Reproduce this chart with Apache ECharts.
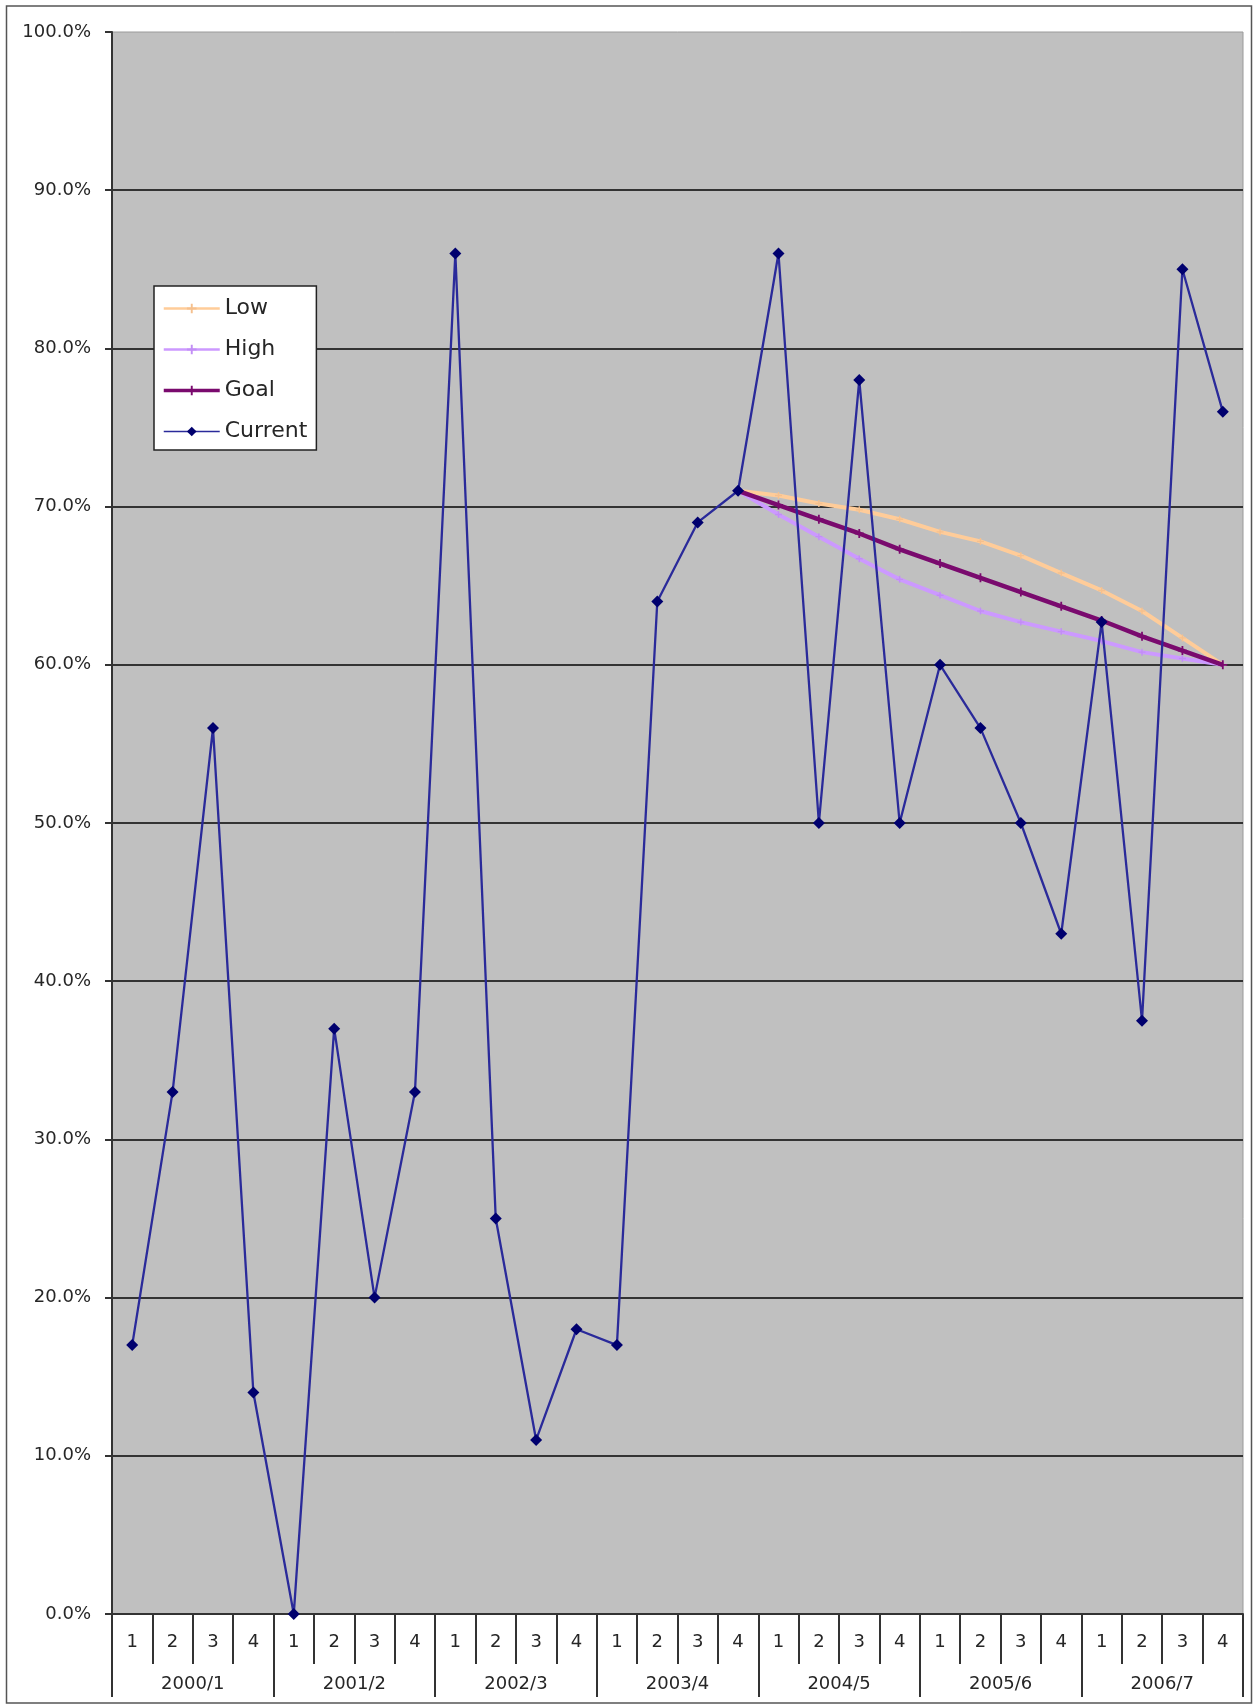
<!DOCTYPE html>
<html>
<head>
<meta charset="utf-8">
<title>Current vs Goal</title>
<script src="https://cdn.jsdelivr.net/npm/echarts@6/dist/echarts.min.js"></script>
<style>
  html, body { margin: 0; padding: 0; background: #ffffff; }
  #chart { width: 1253px; height: 1706px; }
</style>
</head>
<body>
<div id="chart"></div>
<script>
// Quarter labels (inner axis row) and school-year labels (outer axis row)
const quarters = ['1','2','3','4','1','2','3','4','1','2','3','4','1','2','3','4',
                  '1','2','3','4','1','2','3','4','1','2','3','4'];
const years = ['2000/1','2001/2','2002/3','2003/4','2004/5','2005/6','2006/7'];

// Measured rate per quarter, in percent
const current = [17, 33, 56, 14, 0, 37, 20, 33, 86, 25, 11, 18, 17, 64, 69, 71,
                 86, 50, 78, 50, 60, 56, 50, 43, 62.7, 37.5, 85, 76];

// Projections start at the last quarter of 2003/4
const projectionStart = 15;
const lowTrack  = [71, 70.7, 70.2, 69.8, 69.2, 68.4, 67.8, 66.9, 65.8, 64.7, 63.4, 61.7, 60];
const highTrack = [71, 69.5, 68.1, 66.7, 65.4, 64.4, 63.4, 62.7, 62.1, 61.5, 60.8, 60.4, 60];
const goalTrack = [71, 70.1, 69.2, 68.3, 67.3, 66.4, 65.5, 64.6, 63.7, 62.8, 61.8, 60.9, 60];

const yTicks = { min: 0, max: 100, step: 10 };

function pad(track) {
  return new Array(projectionStart).fill(null).concat(track);
}

const plus = 'path://M4,0 L6,0 L6,4 L10,4 L10,6 L6,6 L6,10 L4,10 L4,6 L0,6 L0,4 L4,4 Z';
const font = 'DejaVu Sans';
const ink = '#262626';

const chart = echarts.init(document.getElementById('chart'), null, { renderer: 'canvas' });

chart.setOption({
  animation: false,
  backgroundColor: '#ffffff',
  textStyle: { fontFamily: font },
  graphic: [{
    type: 'rect',
    shape: { x: 6.5, y: 6, width: 1245, height: 1697 },
    style: { fill: 'none', stroke: '#555555', lineWidth: 1.5 },
    z: -1
  }],
  grid: {
    left: 112, right: 10, top: 32, bottom: 92,
    show: true,
    backgroundColor: '#c0c0c0',
    borderColor: '#9a9a9a',
    borderWidth: 1
  },
  legend: {
    orient: 'vertical',
    left: 154, top: 286,
    backgroundColor: '#ffffff',
    borderColor: '#222222',
    borderWidth: 1.5,
    borderRadius: 0,
    padding: [11, 9, 7, 8],
    itemWidth: 56,
    itemHeight: 12,
    itemGap: 18,
    textStyle: { fontSize: 22, color: ink, fontFamily: font, lineHeight: 23 },
    data: [
      { name: 'Low',     lineStyle: { width: 2.5 } },
      { name: 'High',    lineStyle: { width: 2.5 } },
      { name: 'Goal',    lineStyle: { width: 3.5 } },
      { name: 'Current', lineStyle: { width: 1.5 } }
    ]
  },
  xAxis: [{
    type: 'category',
    data: quarters,
    boundaryGap: true,
    position: 'bottom',
    axisLine: { show: true, onZero: false, lineStyle: { color: '#333333', width: 2 } },
    axisTick: { show: true, interval: 0, length: 50, lineStyle: { color: '#333333', width: 2 } },
    axisLabel: { interval: 0, margin: 18, fontSize: 18, lineHeight: 20, color: ink, fontFamily: font },
    splitLine: { show: false }
  }, {
    type: 'category',
    data: years,
    boundaryGap: true,
    position: 'bottom',
    axisLine: { show: false },
    axisTick: { show: true, interval: 0, length: 83, lineStyle: { color: '#333333', width: 2 } },
    axisLabel: { interval: 0, margin: 60, fontSize: 18, lineHeight: 20, color: ink, fontFamily: font },
    splitLine: { show: false }
  }],
  yAxis: {
    type: 'value',
    min: yTicks.min,
    max: yTicks.max,
    interval: yTicks.step,
    axisLine: { show: true, lineStyle: { color: '#333333', width: 2 } },
    axisTick: { show: true, length: 7, lineStyle: { color: '#333333', width: 2 } },
    axisLabel: {
      margin: 21, fontSize: 18, color: ink, fontFamily: font,
      formatter: v => v.toFixed(1) + '%'
    },
    splitLine: {
      show: true,
      showMinLine: false,
      showMaxLine: false,
      lineStyle: { color: '#333333', width: 2 }
    }
  },
  series: [{
    name: 'Low',
    type: 'line',
    data: pad(lowTrack),
    symbol: plus,
    symbolSize: 7,
    showSymbol: true,
    lineStyle: { color: '#ffcc99', width: 4 },
    itemStyle: { color: '#f5c08e' },
    z: 2
  }, {
    name: 'High',
    type: 'line',
    data: pad(highTrack),
    symbol: plus,
    symbolSize: 7,
    lineStyle: { color: '#cc99ff', width: 4 },
    itemStyle: { color: '#c28ef5' },
    z: 3
  }, {
    name: 'Goal',
    type: 'line',
    data: pad(goalTrack),
    symbol: plus,
    symbolSize: 9,
    lineStyle: { color: '#7a0a6e', width: 4.5 },
    itemStyle: { color: '#7a0a6e' },
    z: 4
  }, {
    name: 'Current',
    type: 'line',
    data: current,
    symbol: 'diamond',
    symbolSize: 12,
    lineStyle: { color: '#2a2a9a', width: 2.3 },
    itemStyle: { color: '#00006e' },
    z: 5
  }]
});
</script>
</body>
</html>
